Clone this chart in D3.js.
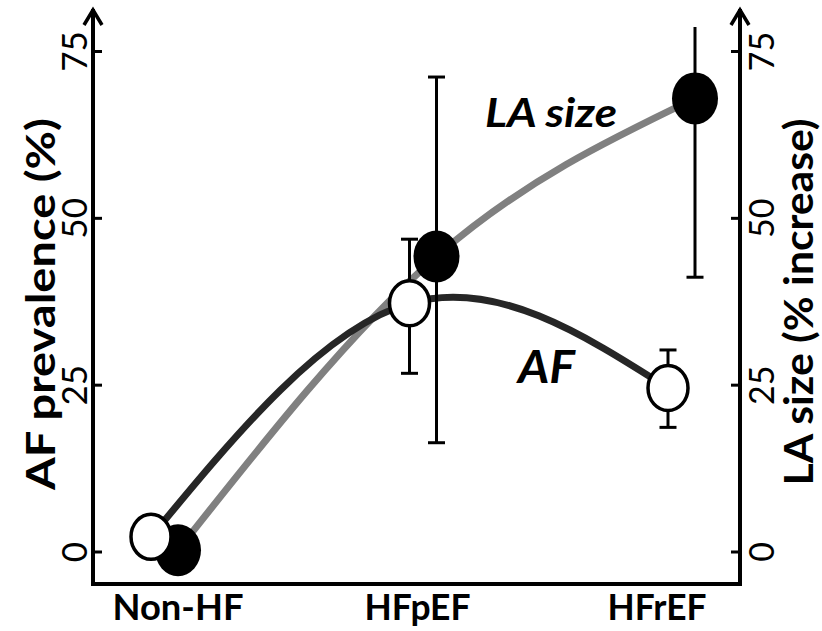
<!DOCTYPE html>
<html>
<head>
<meta charset="utf-8">
<script src="https://cdn.jsdelivr.net/npm/d3@7"></script>
<style>
  body { margin: 0; background: #fff; }
  text { font-family: Lato, "Open Sans", sans-serif; }
</style>
</head>
<body>
<div id="chart"></div>
<script>
// categories and series (values in %)
var categories = ['Non-HF', 'HFpEF', 'HFrEF'];
var afValues = [2.2, 37.2, 24.5];
var afLow = [null, 26.7, 18.6];
var afHigh = [null, 46.8, 30.2];
var laValues = [0.2, 44.2, 67.9];
var laLow = [null, 16.3, 41.1];
var laHigh = [null, 71.1, 78.6];
var yTicks = [0, 25, 50, 75];
var catWidths = [131, 106, 99];

var w = 822;
var h = 631;
var plotLeft = 93, plotRight = 740, plotBottom = 584, plotTop = 9;

var svg = d3.select('#chart')
	.append('svg')
	.attr('width', w)
	.attr('height', h);

var xScale = d3.scalePoint()
	.domain(categories)
	.range([165, 682]);
var labelScale = d3.scalePoint()
	.domain(categories)
	.range([178, 657]);
var yScale = d3.scaleLinear()
	.domain([0, 75])
	.range([551.5, 51]);

var afShift = -14, laShift = 13;

function series(vals, lo, hi, shift) {
	return categories.map(function (c, i) {
		return {cat: c, v: vals[i], lo: lo[i], hi: hi[i], x: xScale(c) + shift};
	});
}
var af = series(afValues, afLow, afHigh, afShift);
var la = series(laValues, laLow, laHigh, laShift);

// axes frame with arrows
var frame = svg.append('g')
	.attr('fill', 'none')
	.attr('stroke', '#000')
	.attr('stroke-width', 4);
frame.append('path')
	.attr('d', 'M' + plotLeft + ',' + plotTop + 'V' + plotBottom + 'H' + plotRight + 'V' + plotTop);
[plotLeft, plotRight].forEach(function (ax) {
	frame.append('path')
		.attr('stroke-width', 3.5)
		.attr('d', 'M' + (ax - 9) + ',' + (plotTop + 16) + 'L' + ax + ',' + (plotTop + 1) + 'L' + (ax + 9) + ',' + (plotTop + 16));
});

// y axes: ticks point inward, labels rotated
var leftAxis = svg.append('g')
	.attr('transform', 'translate(' + plotLeft + ',0)')
	.call(d3.axisRight(yScale).tickValues(yTicks).tickSize(9).tickSizeOuter(0));
var rightAxis = svg.append('g')
	.attr('transform', 'translate(' + plotRight + ',0)')
	.call(d3.axisLeft(yScale).tickValues(yTicks).tickSize(9).tickSizeOuter(0));
[leftAxis, rightAxis].forEach(function (g) {
	g.select('.domain').remove();
	g.selectAll('.tick line').attr('stroke', '#000').attr('stroke-width', 3);
});
leftAxis.selectAll('.tick text')
	.attr('x', null).attr('dy', null)
	.attr('transform', 'translate(-6,0) rotate(-90)')
	.attr('text-anchor', 'middle')
	.attr('font-size', 35)
	.attr('fill', '#000');
rightAxis.selectAll('.tick text')
	.attr('x', null).attr('dy', null)
	.attr('transform', 'translate(34,0) rotate(-90)')
	.attr('text-anchor', 'middle')
	.attr('font-size', 34)
	.attr('fill', '#000');

// category labels
svg.selectAll('text.cat')
	.data(categories)
	.enter()
	.append('text')
	.attr('class', 'cat')
	.text(function (d) { return d; })
	.attr('x', function (d) { return labelScale(d); })
	.attr('y', 620)
	.attr('text-anchor', 'middle')
	.attr('font-size', 36)
	.attr('font-weight', 'bold')
	.attr('textLength', function (d, i) { return catWidths[i]; })
	.attr('lengthAdjust', 'spacingAndGlyphs');

// axis titles
svg.append('text')
	.text('AF prevalence (%)')
	.attr('transform', 'translate(55,304) rotate(-90)')
	.attr('text-anchor', 'middle')
	.attr('font-size', 40)
	.attr('font-weight', 'bold')
	.attr('textLength', 372)
	.attr('lengthAdjust', 'spacingAndGlyphs');
svg.append('text')
	.text('LA size (% increase)')
	.attr('transform', 'translate(813,302) rotate(-90)')
	.attr('text-anchor', 'middle')
	.attr('font-size', 40)
	.attr('font-weight', 'bold')
	.attr('textLength', 367)
	.attr('lengthAdjust', 'spacingAndGlyphs');

// fitted curves
var line = d3.line()
	.x(function (d) { return d.x; })
	.y(function (d) { return yScale(d.v); })
	.curve(d3.curveNatural);
svg.append('path')
	.datum(la)
	.attr('d', line)
	.attr('fill', 'none')
	.attr('stroke', '#808080')
	.attr('stroke-width', 7);
svg.append('path')
	.datum(af)
	.attr('d', line)
	.attr('fill', 'none')
	.attr('stroke', '#262626')
	.attr('stroke-width', 7);

// error bars
function errorBars(data) {
	var g = svg.append('g').attr('stroke', '#000').attr('stroke-width', 3);
	var d = data.filter(function (p) { return p.lo != null; });
	g.selectAll('line.v')
		.data(d)
		.enter()
		.append('line')
		.attr('x1', function (p) { return p.x; })
		.attr('x2', function (p) { return p.x; })
		.attr('y1', function (p) { return yScale(p.lo); })
		.attr('y2', function (p) { return yScale(p.hi); });
	var caps = [];
	d.forEach(function (p) {
		caps.push({x: p.x, v: p.lo});
		if (p.hi <= 75) caps.push({x: p.x, v: p.hi});
	});
	g.selectAll('line.cap')
		.data(caps)
		.enter()
		.append('line')
		.attr('x1', function (p) { return p.x - 8.5; })
		.attr('x2', function (p) { return p.x + 8.5; })
		.attr('y1', function (p) { return yScale(p.v); })
		.attr('y2', function (p) { return yScale(p.v); });
}
errorBars(la);
errorBars(af);

// markers
svg.selectAll('ellipse.la')
	.data(la)
	.enter()
	.append('ellipse')
	.attr('class', 'la')
	.attr('cx', function (d) { return d.x; })
	.attr('cy', function (d) { return yScale(d.v); })
	.attr('rx', 23)
	.attr('ry', 26)
	.attr('fill', '#000');
svg.selectAll('ellipse.af')
	.data(af)
	.enter()
	.append('ellipse')
	.attr('class', 'af')
	.attr('cx', function (d) { return d.x; })
	.attr('cy', function (d) { return yScale(d.v); })
	.attr('rx', 20)
	.attr('ry', 22.5)
	.attr('fill', '#fff')
	.attr('stroke', '#000')
	.attr('stroke-width', 3.5);

// series labels
svg.append('text')
	.text('LA size')
	.attr('x', 485)
	.attr('y', 127)
	.attr('font-size', 40)
	.attr('font-weight', 'bold')
	.attr('font-style', 'italic')
	.attr('textLength', 132)
	.attr('lengthAdjust', 'spacingAndGlyphs');
svg.append('text')
	.text('AF')
	.attr('x', 518)
	.attr('y', 383)
	.attr('font-size', 45)
	.attr('font-weight', 'bold')
	.attr('font-style', 'italic')
	.attr('textLength', 57)
	.attr('lengthAdjust', 'spacingAndGlyphs');
</script>
</body>
</html>
